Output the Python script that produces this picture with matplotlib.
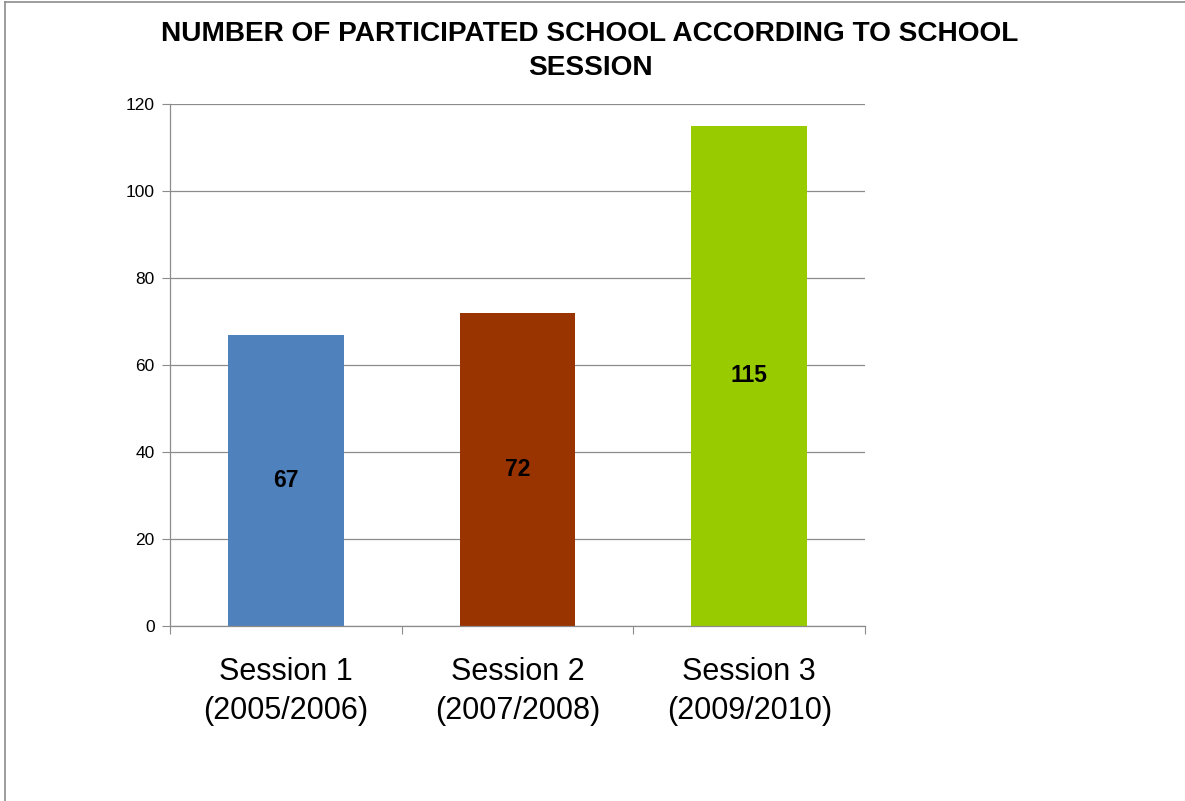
import matplotlib.pyplot as plt
from matplotlib.lines import Line2D

# chart data
sessions = ["Session 1\n(2005/2006)", "Session 2\n(2007/2008)", "Session 3\n(2009/2010)"]
schools = [67, 72, 115]
bar_colors = ["#4F81BD", "#993300", "#99CC00"]
y_ticks = [0, 20, 40, 60, 80, 100, 120]

plt.rcParams['font.family'] = ['Liberation Sans', 'DejaVu Sans']

fig = plt.figure(figsize=(11.85, 8.01), dpi=100)
ax = fig.add_axes([0.1435, 0.2185, 0.5865, 0.6515])

x = range(len(sessions))
ax.bar(x, schools, width=0.5, color=bar_colors, zorder=2)

# value labels in the middle of each bar
for i, v in enumerate(schools):
    ax.text(i, v / 2, str(v), ha='center', va='center', fontsize=16.5, fontweight='bold', zorder=3)

ax.set_xlim(-0.5, 2.5)
ax.set_ylim(0, 120)
ax.set_yticks(y_ticks)
ax.set_yticklabels([str(t) for t in y_ticks], fontsize=12.5)
ax.yaxis.grid(True, color='#8c8c8c', linewidth=0.9, zorder=0)

# category ticks between bars, labels under the bars
ax.set_xticks([-0.5, 0.5, 1.5, 2.5])
ax.set_xticklabels([])
ax.set_xticks(list(x), minor=True)
ax.set_xticklabels(sessions, minor=True, fontsize=22, linespacing=1.42)
ax.tick_params(axis='x', which='minor', length=0, pad=22)
ax.tick_params(axis='x', which='major', length=6, color='#8c8c8c', direction='out')
ax.tick_params(axis='y', length=6, color='#8c8c8c', pad=5)

for side in ['top', 'right']:
    ax.spines[side].set_visible(False)
for side in ['left', 'bottom']:
    ax.spines[side].set_color('#8c8c8c')
    ax.spines[side].set_linewidth(0.9)

fig.text(0.498, 0.936, "NUMBER OF PARTICIPATED SCHOOL ACCORDING TO SCHOOL\nSESSION",
         ha='center', va='center', fontsize=20.2, fontweight='bold', linespacing=1.38)

# chart area border (left and top edges visible)
fig.add_artist(Line2D([0.004, 0.004], [0, 0.997], transform=fig.transFigure, color='#8c8c8c', linewidth=1.2))
fig.add_artist(Line2D([0.004, 1], [0.997, 0.997], transform=fig.transFigure, color='#8c8c8c', linewidth=1.2))

fig.savefig("out.png", dpi=100)
